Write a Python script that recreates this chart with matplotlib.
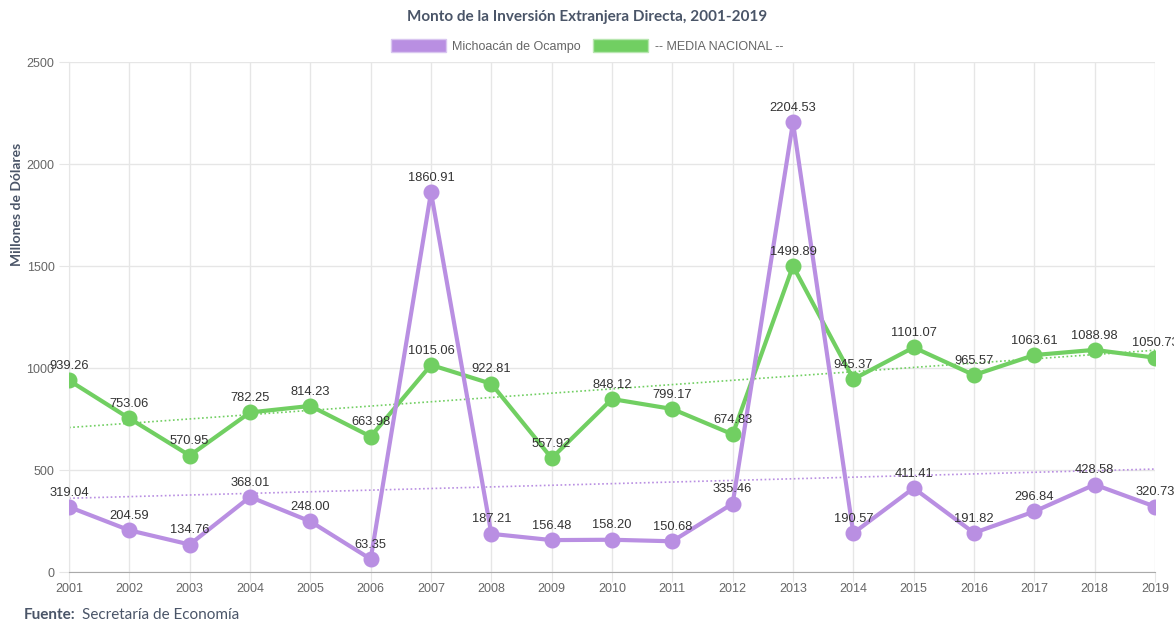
import matplotlib.pyplot as plt
import numpy as np
from matplotlib.patches import Patch

# --- data ---
years = list(range(2001, 2020))
michoacan = [319.04, 204.59, 134.76, 368.01, 248.00, 63.35, 1860.91, 187.21, 156.48,
             158.20, 150.68, 335.46, 2204.53, 190.57, 411.41, 191.82, 296.84, 428.58, 320.73]
nacional = [939.26, 753.06, 570.95, 782.25, 814.23, 663.98, 1015.06, 922.81, 557.92,
            848.12, 799.17, 674.83, 1499.89, 945.37, 1101.07, 965.57, 1063.61, 1088.98, 1050.73]
yticks = [0, 500, 1000, 1500, 2000, 2500]

COLOR_MICH = "#B98FE2"
COLOR_NAC = "#71CF62"
COLOR_TITLE = "#4A5568"
COLOR_TICK = "#666666"
COLOR_GRID = "#E6E6E6"

plt.rcParams["font.family"] = ["Liberation Sans", "DejaVu Sans"]

fig = plt.figure(figsize=(11.74, 6.24), dpi=100)
ax = fig.add_axes([0.0588, 0.0833, 0.9250, 0.8173])

x = np.array(years, dtype=float)


def draw_series(vals, color):
    vals = np.array(vals)
    # 線形トレンド (点線)
    coef = np.polyfit(x, vals, 1)
    ax.plot(x, np.polyval(coef, x), color=color, lw=1.2, linestyle=(0, (1, 1.5)), zorder=2)
    ax.plot(x, vals, color=color, lw=3, marker="o", markersize=10.5, zorder=3)
    for xi, v in zip(x, vals):
        ax.annotate(f"{v:.2f}", (xi, v), xytext=(0, 6), textcoords="offset points",
                    ha="center", va="bottom", fontsize=9.3, color="#333333",
                    annotation_clip=False, zorder=5)


draw_series(nacional, COLOR_NAC)
draw_series(michoacan, COLOR_MICH)

ax.set_xlim(2001, 2019)
ax.set_ylim(0, 2500)
ax.set_xticks(years)
ax.set_xticklabels([str(y) for y in years])
ax.set_yticks(yticks)
ax.tick_params(axis="both", colors=COLOR_GRID, labelcolor=COLOR_TICK, labelsize=9, length=7)
ax.tick_params(axis="x", pad=1)
ax.grid(True, color=COLOR_GRID, lw=1)
ax.set_axisbelow(True)
for side in ["top", "right"]:
    ax.spines[side].set_visible(False)
ax.spines["left"].set_color(COLOR_GRID)
ax.spines["bottom"].set_color("#AAAAAA")

fig.text(0.0145, 0.672, "Millones de Dólares", rotation=90, ha="center", va="center",
         fontsize=10, fontweight="bold", color=COLOR_TITLE, family=["Lato", "DejaVu Sans"])

fig.text(0.5, 0.972, "Monto de la Inversión Extranjera Directa, 2001-2019", ha="center",
         va="center", fontsize=11, fontweight="bold", color=COLOR_TITLE,
         family=["Lato", "DejaVu Sans"])

handles = [Patch(facecolor=COLOR_MICH, edgecolor="#D9C6F0", lw=1),
           Patch(facecolor=COLOR_NAC, edgecolor="#B8E6B0", lw=1)]
fig.legend(handles, ["Michoacán de Ocampo", "-- MEDIA NACIONAL --"], loc="center",
           bbox_to_anchor=(0.5, 0.927), ncol=2, frameon=False, fontsize=9,
           handlelength=4.4, handleheight=1.3, handletextpad=0.5, columnspacing=1.0,
           labelcolor="#666666")

fig.text(0.020, 0.003, "Fuente:", ha="left", va="bottom", fontsize=11, fontweight="bold",
         color=COLOR_TITLE, family=["Lato", "DejaVu Sans"])
fig.text(0.070, 0.003, "Secretaría de Economía", ha="left", va="bottom", fontsize=11,
         color=COLOR_TITLE, family=["Lato", "DejaVu Sans"])

fig.savefig("out.png", dpi=100)
